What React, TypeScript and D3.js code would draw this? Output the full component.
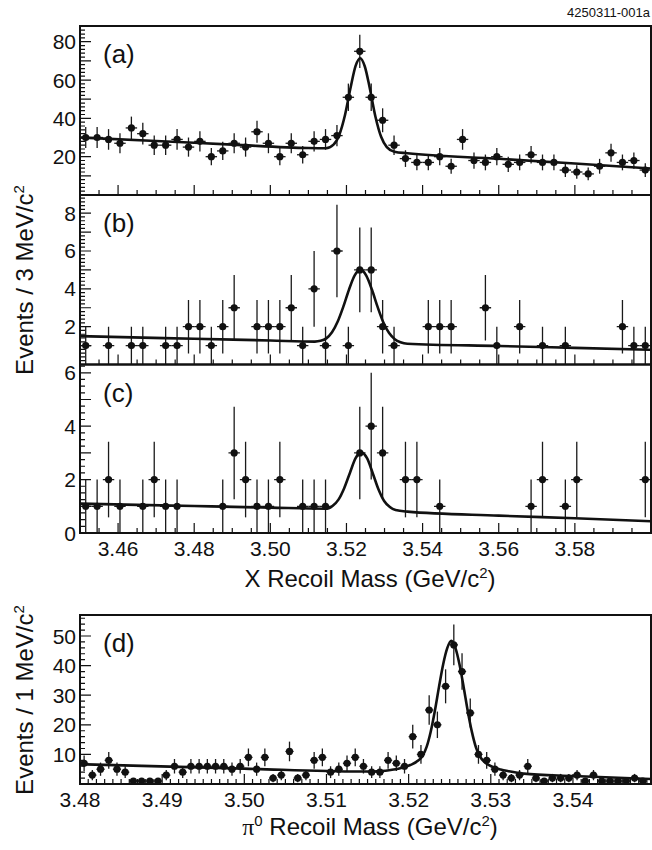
import * as d3 from "d3";

type Pt = [number, number];

const FONT = "'Liberation Sans', Arial, Helvetica, sans-serif";

// bin centres: 3 MeV bins for X recoil, 1 MeV bins for pi0 recoil
const binsX = d3.range(50).map((i) => 3.4515 + 0.003 * i);
const binsPi = d3.range(69).map((i) => 3.4805 + 0.001 * i);

const countsA = [
  30, 30, 29, 27, 35, 32, 26, 26, 29, 25, 28, 20, 23, 27, 25, 33, 27, 20, 27, 21,
  28, 29, 31, 51, 75, 51, 39, 26, 19, 17, 17, 20, 15, 29, 18, 17, 20, 16, 17, 21,
  17, 17, 13, 12, 11, 15, 22, 17, 18, 13,
];
const countsB = [
  1, 0, 1, 0, 1, 1, 0, 1, 1, 2, 2, 1, 2, 3, 0, 2, 2, 2, 3, 1, 4, 1, 6, 1, 5, 5, 2,
  1, 0, 0, 2, 2, 2, 0, 0, 3, 1, 0, 2, 0, 1, 0, 1, 0, 0, 0, 0, 2, 1, 1,
];
const countsC = [
  1, 1, 2, 1, 0, 1, 2, 1, 1, 0, 0, 0, 1, 3, 2, 1, 1, 2, 0, 1, 1, 1, 0, 0, 3, 4, 3,
  0, 2, 2, 0, 1, 0, 0, 0, 0, 0, 0, 0, 1, 2, 0, 1, 2, 0, 0, 0, 0, 0, 2,
];
const countsD = [
  7, 3, 5, 8, 5, 4, 1, 1, 1, 1, 3, 6, 4, 6, 6, 6, 6, 6, 5, 6, 9, 5, 9, 2, 3, 11, 2,
  3, 8, 9, 4, 5, 7, 9, 6, 4, 4, 8, 7, 6, 16, 10, 25, 20, 33, 47, 38, 24, 10, 8, 5,
  3, 2, 3, 6, 2, 1, 2, 2, 2, 3, 1, 3, 1, 1, 1, 1, 2, 1,
];

// fit curves
const fitA: Pt[] = [
  [3.45, 30.0], [3.47, 28.2], [3.49, 26.3], [3.51, 24.5], [3.5146, 24.4],
  [3.5166, 26.3], [3.5181, 31.3], [3.5196, 41.6], [3.5211, 56.2], [3.5224, 67.4],
  [3.5236, 71.4], [3.5248, 67.2], [3.5261, 56.0], [3.5276, 41.0], [3.5291, 30.4],
  [3.5306, 25.0], [3.5326, 22.6], [3.536, 21.8], [3.56, 18.9], [3.58, 16.4],
  [3.6, 13.8],
];
const fitB: Pt[] = [
  [3.45, 1.5], [3.48, 1.36], [3.5, 1.27], [3.5117, 1.21], [3.5132, 1.25],
  [3.5147, 1.38], [3.5162, 1.7], [3.5177, 2.27], [3.5192, 3.07], [3.5207, 3.98],
  [3.5222, 4.72], [3.5237, 5.0], [3.5252, 4.7], [3.5267, 3.95], [3.5282, 3.03],
  [3.5297, 2.22], [3.5312, 1.66], [3.5327, 1.34], [3.5342, 1.18], [3.536, 1.1],
  [3.56, 0.98], [3.58, 0.88], [3.6, 0.78],
];
const fitC: Pt[] = [
  [3.45, 1.1], [3.48, 1.01], [3.5, 0.95], [3.5149, 0.91], [3.5164, 1.02],
  [3.5179, 1.25], [3.5194, 1.68], [3.5209, 2.25], [3.5224, 2.8], [3.5239, 3.02],
  [3.5254, 2.8], [3.5269, 2.24], [3.5284, 1.64], [3.5299, 1.2], [3.5314, 0.97],
  [3.5329, 0.86], [3.536, 0.8], [3.56, 0.65], [3.58, 0.55], [3.6, 0.44],
];
const fitD: Pt[] = [
  [3.48, 6.7], [3.5, 5.2], [3.514, 4.2], [3.5172, 4.5], [3.5182, 4.9],
  [3.5192, 5.5], [3.5202, 6.4], [3.5212, 8.0], [3.5217, 9.5], [3.5222, 12.6],
  [3.5227, 17.8], [3.5232, 24.8], [3.5237, 32.9], [3.5242, 40.4], [3.5247, 45.9],
  [3.5252, 48.4], [3.5257, 45.9], [3.5262, 40.3], [3.5267, 32.7], [3.5272, 24.6],
  [3.5277, 17.6], [3.5282, 12.3], [3.5287, 9.2], [3.5292, 7.5], [3.5302, 5.8],
  [3.5312, 4.9], [3.5322, 4.3], [3.534, 3.5], [3.54, 2.7], [3.5495, 1.7],
];

const xLabelsX = [3.46, 3.48, 3.5, 3.52, 3.54, 3.56, 3.58];
const xLabelsPi = [3.48, 3.49, 3.5, 3.51, 3.52, 3.53, 3.54];

const stepTicks = (lo: number, hi: number, step: number) =>
  d3
    .range(Math.ceil(lo / step - 1e-6), Math.floor(hi / step + 1e-6) + 1)
    .map((k) => k * step);

const isMult = (v: number, step: number) =>
  Math.abs(v / step - Math.round(v / step)) < 1e-6;

type PanelProps = {
  id: string;
  x: d3.ScaleLinear<number, number>;
  top: number;
  bottom: number;
  yMax: number;
  bins: number[];
  counts: number[];
  halfBin: number;
  fit: Pt[];
  yMajor: number;
  yMinor: number;
  yLabels: number[];
  xMajor: number;
  xMinor: number;
  xLabels?: string[];
  xLabelVals?: number[];
  tag: string;
};

function Panel(p: PanelProps) {
  const { x, top, bottom } = p;
  const y = d3.scaleLinear().domain([0, p.yMax]).range([bottom, top]);
  const [x0, x1] = x.range();
  const [d0, d1] = x.domain();

  const line = d3
    .line<Pt>()
    .x((d) => x(d[0]))
    .y((d) => y(d[1]))
    .curve(d3.curveMonotoneX);

  const yt = stepTicks(0, p.yMax, p.yMinor)
    .map((v) => {
      const len = isMult(v, p.yMajor) ? 11 : 5;
      return `M${x0},${y(v)}h${len}`;
    })
    .join("");
  const xt = stepTicks(d0, d1, p.xMinor)
    .map((v) => {
      const len = isMult(v, p.xMajor) ? 10 : 5;
      return `M${x(v)},${bottom}v${-len}`;
    })
    .join("");

  return (
    <g>
      <defs>
        <clipPath id={`clip-${p.id}`}>
          <rect x={x0} y={top} width={x1 - x0} height={bottom - top} />
        </clipPath>
      </defs>
      <g clipPath={`url(#clip-${p.id})`}>
        {p.counts.map((c, i) => {
          if (c <= 0) return null;
          const m = p.bins[i];
          const e = Math.sqrt(c);
          return (
            <g key={i} stroke="#1a1a1a" strokeWidth={1.3}>
              <line x1={x(m)} x2={x(m)} y1={y(Math.max(0, c - e))} y2={y(c + e)} />
              <line x1={x(m - p.halfBin)} x2={x(m + p.halfBin)} y1={y(c)} y2={y(c)} />
              <circle cx={x(m)} cy={y(c)} r={3.6} fill="#111" stroke="none" />
            </g>
          );
        })}
        <path d={line(p.fit) || ""} fill="none" stroke="#111" strokeWidth={2.6} />
      </g>
      <path d={yt + xt} stroke="#111" strokeWidth={1.2} fill="none" />
      <rect
        x={x0}
        y={top}
        width={x1 - x0}
        height={bottom - top}
        fill="none"
        stroke="#111"
        strokeWidth={2}
      />
      {p.yLabels.map((v) => (
        <text
          key={v}
          x={x0 - 4}
          y={y(v)}
          textAnchor="end"
          dominantBaseline="central"
          fontSize={21}
          fill="#111"
        >
          {v}
        </text>
      ))}
      {p.xLabels &&
        p.xLabelVals &&
        p.xLabelVals.map((v, i) => (
          <text
            key={v}
            x={x(v)}
            y={bottom + 23}
            textAnchor="middle"
            fontSize={21}
            fill="#111"
          >
            {p.xLabels![i]}
          </text>
        ))}
      <text x={x0 + 23} y={top + 37} fontSize={26} fill="#111">
        {p.tag}
      </text>
    </g>
  );
}

export default function App() {
  const W = 652;
  const H = 850;
  const L = 80;
  const R = 651;
  const xX = d3.scaleLinear().domain([3.45, 3.6]).range([L, R]);
  const xPi = d3.scaleLinear().domain([3.48, 3.5495]).range([L, R]);

  return (
    <svg
      width={W}
      height={H}
      viewBox={`0 0 ${W} ${H}`}
      style={{ position: "absolute", left: 0, top: 0, background: "#fff" }}
      fontFamily={FONT}
    >
      <text x={567} y={17} fontSize={13} fill="#111">
        4250311-001a
      </text>

      <Panel
        id="a" x={xX} top={26} bottom={195} yMax={88.2}
        bins={binsX} counts={countsA} halfBin={0.0015} fit={fitA}
        yMajor={10} yMinor={2} yLabels={[20, 40, 60, 80]}
        xMajor={0.02} xMinor={0.005} tag="(a)"
      />
      <Panel
        id="b" x={xX} top={195} bottom={364.5} yMax={8.96}
        bins={binsX} counts={countsB} halfBin={0.0015} fit={fitB}
        yMajor={1} yMinor={0.2} yLabels={[2, 4, 6, 8]}
        xMajor={0.02} xMinor={0.005} tag="(b)"
      />
      <Panel
        id="c" x={xX} top={364.5} bottom={533} yMax={6.31}
        bins={binsX} counts={countsC} halfBin={0.0015} fit={fitC}
        yMajor={1} yMinor={0.25} yLabels={[0, 2, 4, 6]}
        xMajor={0.02} xMinor={0.005} tag="(c)"
        xLabelVals={xLabelsX} xLabels={xLabelsX.map((v) => v.toFixed(2))}
      />
      <Panel
        id="d" x={xPi} top={615} bottom={784} yMax={57.1}
        bins={binsPi} counts={countsD} halfBin={0.0005} fit={fitD}
        yMajor={10} yMinor={2} yLabels={[10, 20, 30, 40, 50]}
        xMajor={0.01} xMinor={0.001} tag="(d)"
        xLabelVals={xLabelsPi} xLabels={xLabelsPi.map((v) => v.toFixed(2))}
      />

      <text x={370} y={587} textAnchor="middle" fontSize={24} fill="#111">
        X Recoil Mass (GeV/c<tspan dy={-9} fontSize={15}>2</tspan>
        <tspan dy={9}>)</tspan>
      </text>
      <text x={370} y={835} textAnchor="middle" fontSize={24} fill="#111">
        <tspan fontFamily="'Liberation Serif', 'Times New Roman', serif">π</tspan>
        <tspan dy={-9} fontSize={15}>0</tspan>
        <tspan dy={9}> Recoil Mass (GeV/c</tspan>
        <tspan dy={-9} fontSize={15}>2</tspan>
        <tspan dy={9}>)</tspan>
      </text>

      <text
        transform="translate(33,280) rotate(-90)"
        textAnchor="middle"
        fontSize={24}
        fill="#111"
      >
        Events / 3 MeV/c<tspan dy={-9} fontSize={15}>2</tspan>
      </text>
      <text
        transform="translate(33,700) rotate(-90)"
        textAnchor="middle"
        fontSize={24}
        fill="#111"
      >
        Events / 1 MeV/c<tspan dy={-9} fontSize={15}>2</tspan>
      </text>
    </svg>
  );
}
